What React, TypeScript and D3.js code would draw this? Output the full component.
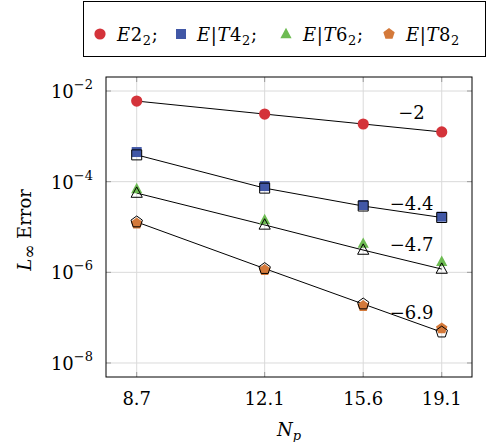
import React from "react";
import * as d3 from "d3";

// Grid points N_p and axis ticks
const npValues = [8.7, 12.1, 15.6, 19.1];
const yTickValues = [1e-2, 1e-4, 1e-6, 1e-8];
const yTickExps = ["−2", "−4", "−6", "−8"];

// L-infinity error per scheme (filled markers)
const errE2 = [6.0e-3, 3.1e-3, 1.87e-3, 1.25e-3];
const errT4 = [4.5e-4, 8.0e-5, 3.05e-5, 1.69e-5];
const errT6 = [6.9e-5, 1.43e-5, 4.3e-6, 1.71e-6];
const errT8 = [1.19e-5, 1.12e-6, 1.8e-7, 5.8e-8];

// Companion runs (open black markers, joined by lines)
const refT4 = [3.9e-4, 7.2e-5, 2.9e-5, 1.62e-5];
const refT6 = [5.6e-5, 1.11e-5, 3.1e-6, 1.18e-6];
const refT8 = [1.29e-5, 1.21e-6, 2.0e-7, 4.8e-8];

// Convergence-rate annotations
const slopeTexts = ["−2", "−4.4", "−4.7", "−6.9"];
const slopeAnchors = [2.4e-3, 2.35e-5, 2.9e-6, 9.5e-8];

type Shape = "circle" | "square" | "triangle" | "pentagon";

const colors = {
  red: "#d4333a",
  blue: "#4157a6",
  green: "#6dbb52",
  orange: "#d4793a",
};

const W = 487;
const H = 442;
const left = 106;
const right = 472;
const top = 77;
const bottom = 377;

const x = d3.scaleLog().domain([8.038, 20.65]).range([left, right]);
const y = d3
  .scaleLog()
  .domain([Math.pow(10, -8.309), Math.pow(10, -1.691)])
  .range([bottom, top]);

function markerPath(shape: Shape, cx: number, cy: number): string {
  const p = d3.path();
  if (shape === "circle") {
    p.arc(cx, cy, 5.6, 0, Math.PI * 2);
  } else if (shape === "square") {
    p.rect(cx - 5, cy - 5, 10, 10);
  } else if (shape === "triangle") {
    p.moveTo(cx, cy - 6.2);
    p.lineTo(cx + 5.6, cy + 4.2);
    p.lineTo(cx - 5.6, cy + 4.2);
    p.closePath();
  } else {
    const r = 6;
    for (let i = 0; i < 5; i++) {
      const a = -Math.PI / 2 + (i * 2 * Math.PI) / 5;
      const px = cx + r * Math.cos(a);
      const py = cy + r * Math.sin(a);
      if (i === 0) p.moveTo(px, py);
      else p.lineTo(px, py);
    }
    p.closePath();
  }
  return p.toString();
}

const filledSeries: { values: number[]; color: string; shape: Shape }[] = [
  { values: errE2, color: colors.red, shape: "circle" },
  { values: errT4, color: colors.blue, shape: "square" },
  { values: errT6, color: colors.green, shape: "triangle" },
  { values: errT8, color: colors.orange, shape: "pentagon" },
];

const openSeries: { values: number[]; shape: Shape }[] = [
  { values: refT4, shape: "square" },
  { values: refT6, shape: "triangle" },
  { values: refT8, shape: "pentagon" },
];

const lineSeries = [errE2, refT4, refT6, refT8];

const serif = "'DejaVu Serif', 'Liberation Serif', serif";
const fs = 18;
const fsSmall = 13;

const line = d3
  .line<number>()
  .x((_, i) => x(npValues[i]))
  .y((v) => y(v));

export default function App() {
  const legendItems: { color: string; shape: Shape; label: string[]; lx: number; mx: number }[] = [
    { color: colors.red, shape: "circle", label: ["E", "", "2"], mx: 100, lx: 117 },
    { color: colors.blue, shape: "square", label: ["E", "T", "4"], mx: 181, lx: 197 },
    { color: colors.green, shape: "triangle", label: ["E", "T", "6"], mx: 286, lx: 303 },
    { color: colors.orange, shape: "pentagon", label: ["E", "T", "8"], mx: 389, lx: 406 },
  ];

  return (
    <svg
      width={W}
      height={H}
      style={{ position: "absolute", left: 0, top: 0, background: "#fff" }}
      fontFamily={serif}
    >
      {/* legend */}
      <rect x={83.5} y={1.5} width={402} height={55} fill="#fff" stroke="#000" strokeWidth={1} />
      {legendItems.map((it, i) => (
        <g key={i}>
          <path d={markerPath(it.shape, it.mx, 34)} fill={it.color} />
          <text x={it.lx} y={41} fontSize={fs} letterSpacing={0.6}>
            <tspan fontStyle="italic">E</tspan>
            {it.label[1] ? (
              <>
                <tspan>|</tspan>
                <tspan fontStyle="italic">{it.label[1]}</tspan>
              </>
            ) : null}
            <tspan>{it.label[2]}</tspan>
            <tspan fontSize={fsSmall} dy={4}>2</tspan>
            {i < 3 ? <tspan dy={-4}>;</tspan> : null}
          </text>
        </g>
      ))}

      {/* grid */}
      {npValues.map((v) => (
        <line key={"gx" + v} x1={x(v)} x2={x(v)} y1={top} y2={bottom} stroke="#dadada" strokeWidth={1} />
      ))}
      {yTickValues.map((v) => (
        <line key={"gy" + v} x1={left} x2={right} y1={y(v)} y2={y(v)} stroke="#dadada" strokeWidth={1} />
      ))}

      {/* tick marks on all sides */}
      {npValues.map((v) => (
        <g key={"tx" + v} stroke="#9a9a9a" strokeWidth={1}>
          <line x1={x(v)} x2={x(v)} y1={bottom} y2={bottom - 5} />
          <line x1={x(v)} x2={x(v)} y1={top} y2={top + 5} />
        </g>
      ))}
      {yTickValues.map((v) => (
        <g key={"ty" + v} stroke="#9a9a9a" strokeWidth={1}>
          <line x1={left} x2={left + 5} y1={y(v)} y2={y(v)} />
          <line x1={right} x2={right - 5} y1={y(v)} y2={y(v)} />
        </g>
      ))}

      {/* connecting lines */}
      {lineSeries.map((vals, i) => (
        <path key={"l" + i} d={line(vals) || ""} fill="none" stroke="#000" strokeWidth={1} />
      ))}

      {/* filled markers */}
      {filledSeries.map((s, i) =>
        s.values.map((v, j) => (
          <path key={`f${i}-${j}`} d={markerPath(s.shape, x(npValues[j]), y(v))} fill={s.color} />
        ))
      )}

      {/* open markers */}
      {openSeries.map((s, i) =>
        s.values.map((v, j) => (
          <path
            key={`o${i}-${j}`}
            d={markerPath(s.shape, x(npValues[j]), y(v))}
            fill="none"
            stroke="#000"
            strokeWidth={1}
          />
        ))
      )}

      {/* rate annotations */}
      {slopeTexts.map((t, i) => (
        <text key={"s" + i} x={411.5} y={y(slopeAnchors[i])} fontSize={fs} textAnchor="middle">
          {t}
        </text>
      ))}

      {/* frame */}
      <rect x={left} y={top} width={right - left} height={bottom - top} fill="none" stroke="#000" strokeWidth={1} />

      {/* x tick labels */}
      {npValues.map((v) => (
        <text key={"xl" + v} x={x(v)} y={405} fontSize={fs} textAnchor="middle">
          {v.toFixed(1)}
        </text>
      ))}

      {/* y tick labels */}
      {yTickValues.map((v, i) => (
        <text key={"yl" + v} x={93} y={y(v) + 7} fontSize={fs} textAnchor="end">
          <tspan>10</tspan>
          <tspan fontSize={fsSmall} dy={-9}>{yTickExps[i]}</tspan>
        </text>
      ))}

      {/* axis titles */}
      <text x={289} y={436} fontSize={fs} textAnchor="middle">
        <tspan fontStyle="italic">N</tspan>
        <tspan fontStyle="italic" fontSize={fsSmall} dy={4}>p</tspan>
      </text>
      <text transform="translate(31,230) rotate(-90)" fontSize={fs} textAnchor="middle">
        <tspan fontStyle="italic">L</tspan>
        <tspan fontSize={17} dy={4}>∞</tspan>
        <tspan dy={-4}> Error</tspan>
      </text>
    </svg>
  );
}
